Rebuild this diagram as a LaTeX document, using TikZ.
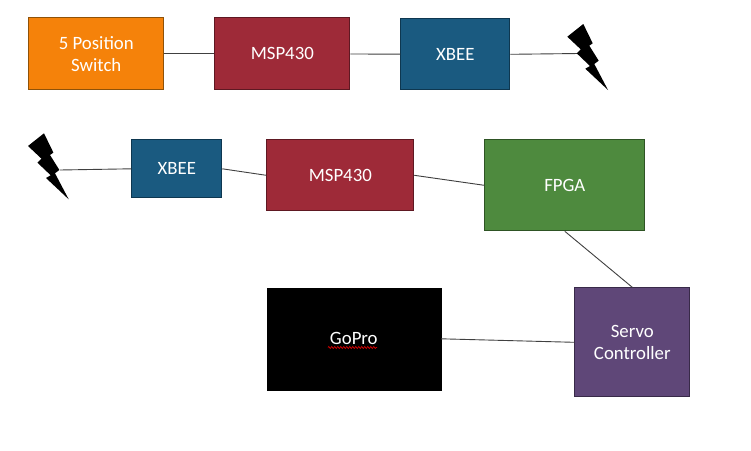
\documentclass[tikz,border=0pt]{standalone}
\usepackage{fontspec}
\setmainfont{Carlito}
\usetikzlibrary{decorations.pathmorphing}
\definecolor{orangeF}{HTML}{F5820A}\definecolor{orangeD}{HTML}{8F5208}
\definecolor{redF}{HTML}{9E2A38}\definecolor{redD}{HTML}{5E1822}
\definecolor{blueF}{HTML}{1A5A80}\definecolor{blueD}{HTML}{0E3750}
\definecolor{greenF}{HTML}{4E8A3E}\definecolor{greenD}{HTML}{2E5424}
\definecolor{purpleF}{HTML}{5F4778}\definecolor{purpleD}{HTML}{382A48}
\tikzset{
  blockbox/.style={draw=#1D,fill=#1F,line width=1pt,text=white,align=center,font=\fontsize{18.8}{22}\selectfont,inner sep=0pt},
  link/.style={draw=black!75,line width=0.9pt},
  boltshape/.style={fill=black,draw=none}
}
\begin{document}
\begin{tikzpicture}[x=1pt,y=-1pt]
\useasboundingbox (0,0) rectangle (751,450);
\fill[white] (0,0) rectangle (751,450);
\newcommand{\blk}[7]{\node[blockbox=#2,minimum width=#5pt-#3pt,minimum height=#6pt-#4pt] (#1) at ({(#3+#5)/2-0.2},{(#4+#6)/2-0.2}) {#7};}
\blk{sw}{orange}{29}{18}{164}{90}{5 Position\\Switch}
\blk{mspa}{red}{215}{18}{350}{90}{MSP430}
\blk{xba}{blue}{401}{19}{510}{90}{XBEE}
\blk{xbb}{blue}{132}{140}{222}{198}{XBEE}
\blk{mspb}{red}{267}{140}{414}{211}{MSP430}
\blk{fpga}{green}{485}{140}{645}{231}{FPGA}
\node[fill=black,draw=black,minimum width=174pt,minimum height=102pt,inner sep=0pt,text=white,font=\fontsize{18.8}{22}\selectfont] (gopro) at (353.8,338.8) {GoPro};
\blk{servo}{purple}{575}{288}{690}{397}{Servo\\Controller}
\draw[red!80!black,line width=0.7pt,decorate,decoration={zigzag,segment length=3pt,amplitude=1.1pt}] (328,347.5) -- (377,347.5);
\coordinate (bolta) at (579,53.5);
\coordinate (boltb) at (60,170);
\draw[link] (sw) -- (mspa);
\draw[link] (mspa) -- (xba);
\draw[link] (xba.east) -- (bolta);
\draw[link] (boltb) -- (xbb.west);
\draw[link] (xbb.east) -- (mspb.west);
\draw[link] (mspb.east) -- (fpga.west);
\draw[link] (fpga.south) -- (servo.north);
\draw[link] (gopro.east) -- (servo.west);
\foreach \dx/\dy in {0/0,-539.3/109.3}
  \fill[boltshape,shift={(\dx pt,-\dy pt)}] (583.3,24) -- (592.7,43.3) -- (589.3,45.7) -- (598.7,60.7) -- (594.3,64) -- (608,90) -- (585.3,68.7) -- (590,66) -- (576.7,53.3) -- (580.7,49.3) -- (567.3,36.7) -- cycle;
\end{tikzpicture}
\end{document}
